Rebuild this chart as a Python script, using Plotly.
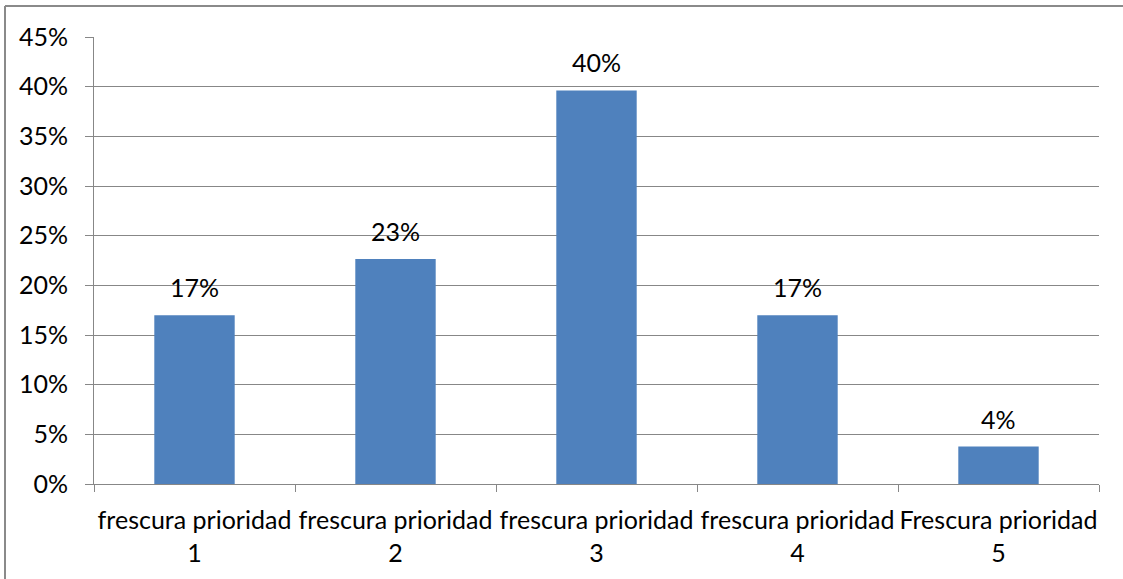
import plotly.graph_objects as go

categories = ["frescura prioridad<br>1", "frescura prioridad<br>2", "frescura prioridad<br>3",
              "frescura prioridad<br>4", "Frescura prioridad<br>5"]
values = [0.1698, 0.2264, 0.3962, 0.1698, 0.0377]
labels = ["17%", "23%", "40%", "17%", "4%"]

FONT = "Lato"
FS = 25
GRID = "#878787"
BAR = "#4F81BD"

W, H = 1123, 579
L, R, T, B = 94, 24, 37, 95
pw, ph = W - L - R, H - T - B

fig = go.Figure()
fig.add_trace(go.Bar(x=categories, y=values, marker=dict(color=BAR, line=dict(width=0)),
                     width=0.4, hoverinfo="skip"))

for c, v, t in zip(categories, values, labels):
    fig.add_annotation(x=c, y=v, text=t, showarrow=False, yanchor="bottom",
                       yshift=11, font=dict(family=FONT, size=FS, color="#000000"))

# outer chart border: only left and top edges are visible in the picture
bx = (5 - L) / pw
by = (ph + T - 6) / ph
fig.add_shape(type="line", xref="paper", yref="paper", x0=bx, x1=bx, y0=-(B + 20) / ph, y1=by,
              line=dict(color="#8A8A8A", width=2), layer="below")
fig.add_shape(type="line", xref="paper", yref="paper", x0=bx, x1=(W - 60 - L) / pw, y0=by, y1=by,
              line=dict(color="#8A8A8A", width=2), layer="below")
fig.add_shape(type="line", xref="paper", yref="paper", x0=(W - 60 - L) / pw, x1=(W + 20 - L) / pw,
              y0=by, y1=by, line=dict(color="#8A8A8A", width=2), layer="below")

fig.update_layout(
    width=W, height=H,
    margin=dict(l=L, r=R, t=T, b=B, pad=0, autoexpand=False),
    paper_bgcolor="white", plot_bgcolor="white",
    showlegend=False,
    font=dict(family=FONT, size=FS, color="#000000"),
    xaxis=dict(type="category", tickson="boundaries", ticks="outside", ticklen=7,
               tickcolor=GRID, showline=True, linecolor=GRID, linewidth=1,
               showgrid=False, ticklabelstandoff=14, tickangle=0, automargin=False,
               tickfont=dict(size=FS)),
    yaxis=dict(range=[0, 0.45], dtick=0.05, tickformat=".0%", ticks="outside", ticklen=8,
               tickcolor=GRID, showline=True, linecolor=GRID, linewidth=1,
               showgrid=True, gridcolor=GRID, gridwidth=1, zeroline=False,
               ticklabelstandoff=12, automargin=False, tickfont=dict(size=FS)),
)

fig.write_html("out.html", config={"displayModeBar": False},
               post_script="document.body.style.margin='0';document.body.style.overflow='hidden';")
